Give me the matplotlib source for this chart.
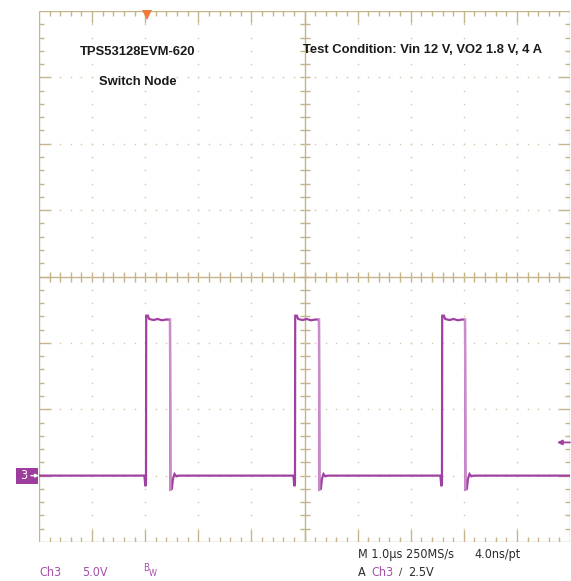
import matplotlib
matplotlib.use("Agg")
import matplotlib.pyplot as plt
from matplotlib.collections import LineCollection
from matplotlib.patches import Rectangle
from matplotlib import font_manager

# ---- scope settings ----
VOLTS_PER_DIV = 5.0
US_PER_DIV = 1.0
GROUND_DIV = -3.0          # ch3 ground marker position (divisions from centre)
TRIG_LEVEL_V = 2.5
TRIG_POS_US = 2.03         # trigger point, µs from left edge of screen

# ---- switch-node waveform (µs from left edge, volts) ----
rise_us = [2.015, 4.821, 7.589]
fall_us = [2.467, 5.273, 8.023]
v_high = 11.75
v_overshoot = 12.05
v_dip_rise = -0.8
v_dip_fall = -1.05
top_ripple_dt = [0.06, 0.14, 0.22, 0.30, 0.38]
top_ripple_v = [11.8, 11.72, 11.8, 11.7, 11.76]
ring_dt = [0.008, 0.035, 0.055, 0.085, 0.12, 0.16]
ring_v = [-1.05, -1.0, -0.25, 0.12, -0.05, 0.0]

# ---- colours ----
GRAT = "#c4b48c"
DOT = "#d2c6a6"
TRACE = "#a040a0"
TRACE_FALL = "#cc8ccc"
LABEL_PURPLE = "#a550a8"
TEXT_DARK = "#2b2b2b"
TRIG_ORANGE = "#f07a3a"

# condensed face for the readout line
avail = {f.name for f in font_manager.fontManager.ttflist}
NARROW = "Liberation Sans Narrow" if "Liberation Sans Narrow" in avail else "DejaVu Sans"

W, H = 571, 581
fig = plt.figure(figsize=(W / 100, H / 100), dpi=100)
fig.patch.set_facecolor("white")

L, R, T, B = 39, 570, 11, 542
ax = fig.add_axes([L / W, 1 - B / H, (R - L) / W, (B - T) / H])
ax.set_xlim(0, 10)
ax.set_ylim(-4, 4)
ax.axis("off")

px_x = 10 / (R - L)   # divisions per pixel, horizontal
px_y = 8 / (B - T)    # divisions per pixel, vertical

# ---- graticule ----
segs = []
segs += [[(0, -4), (10, -4)], [(0, 4), (10, 4)], [(0, -4), (0, 4)], [(10, -4), (10, 4)]]
segs += [[(0, 0), (10, 0)], [(5, -4), (5, 4)]]
minor, major = 5, 12
for k in range(1, 50):
    x = k * 0.2
    ln = major if k % 5 == 0 else minor
    segs.append([(x, 4), (x, 4 - ln * px_y)])
    segs.append([(x, -4), (x, -4 + ln * px_y)])
    segs.append([(x, -5 * px_y), (x, 5 * px_y)])
for k in range(1, 40):
    y = -4 + k * 0.2
    ln = major if k % 5 == 0 else minor
    segs.append([(0, y), (ln * px_x, y)])
    segs.append([(10, y), (10 - ln * px_x, y)])
    segs.append([(5 - 5 * px_x, y), (5 + 5 * px_x, y)])
ax.add_collection(LineCollection(segs, colors=GRAT, linewidths=1.0, zorder=1))

dx, dy = [], []
for xm in range(1, 10):
    if xm == 5:
        continue
    for k in range(1, 40):
        dx.append(xm)
        dy.append(-4 + k * 0.2)
for ym in range(-3, 4):
    if ym == 0:
        continue
    for k in range(1, 50):
        dx.append(k * 0.2)
        dy.append(ym)
ax.plot(dx, dy, linestyle="none", marker="s", markersize=1.0,
        markeredgewidth=0, color=DOT, zorder=1)

# ---- trace ----
t, v = [0.0], [0.0]
for tr, tf in zip(rise_us, fall_us):
    t += [tr - 0.03, tr - 0.012, tr, tr + 0.004, tr + 0.035]
    v += [0.0, v_dip_rise, v_dip_rise * 0.6, v_overshoot, v_overshoot]
    t += [tr + d for d in top_ripple_dt if tr + d < tf]
    v += [vv for d, vv in zip(top_ripple_dt, top_ripple_v) if tr + d < tf]
    t += [tf]
    v += [v_high]
    t += [tf + d for d in ring_dt]
    v += ring_v
t.append(10.0)
v.append(0.0)

def to_div(volts):
    return volts / VOLTS_PER_DIV + GROUND_DIV

ax.plot(t, [to_div(x) for x in v], color=TRACE, linewidth=1.6,
        solid_joinstyle="miter", zorder=3)
for tf in fall_us:
    ax.plot([tf, tf + ring_dt[0]], [to_div(v_high), to_div(ring_v[0])],
            color=TRACE_FALL, linewidth=1.6, zorder=4)

# ---- markers ----
ax.plot([TRIG_POS_US / US_PER_DIV], [4 - 3.5 * px_y], marker="v", markersize=7,
        color=TRIG_ORANGE, markeredgewidth=0, clip_on=False, zorder=5)
ty = to_div(TRIG_LEVEL_V)
ax.annotate("", xy=(10 - 13 * px_x, ty), xytext=(10, ty),
            arrowprops=dict(arrowstyle="-|>", color=TRACE, lw=1.3,
                            mutation_scale=7, shrinkA=0, shrinkB=0),
            annotation_clip=False, zorder=5)
ax.add_patch(Rectangle((-23 * px_x, GROUND_DIV - 8 * px_y), 22 * px_x, 16 * px_y,
                       facecolor="#9c3c9c", edgecolor="none", clip_on=False, zorder=5))
ax.text(-15 * px_x, GROUND_DIV, "3", color="white", fontsize=9,
        family=NARROW, fontstretch="condensed", ha="center", va="center",
        zorder=6, clip_on=False)
ax.annotate("", xy=(0, GROUND_DIV), xytext=(-8 * px_x, GROUND_DIV),
            arrowprops=dict(arrowstyle="-|>", color="white", lw=1.0,
                            mutation_scale=5, shrinkA=0, shrinkB=0),
            annotation_clip=False, zorder=6)

# ---- annotations ----
def ftext(x, y, s, **kw):
    return fig.text(x / W, 1 - y / H, s, **kw)

bold = dict(family="Liberation Sans", fontweight="bold", fontsize=9.4,
            color="#1a1a1a", va="baseline", ha="left")
ftext(80, 55, "TPS53128EVM-620", **bold)
ftext(99, 85, "Switch Node", **bold)
ftext(303, 53, "Test Condition: Vin 12 V, VO2 1.8 V, 4 A", **bold)

readout = dict(family=NARROW, fontstretch="condensed", fontsize=9.0,
               va="baseline", ha="left")
ftext(39, 575.5, "Ch3", color=LABEL_PURPLE, **readout)
ftext(82, 575.5, "5.0V", color=LABEL_PURPLE, **readout)
ftext(358, 558, "M 1.0\u00b5s 250MS/s", color=TEXT_DARK, **readout)
ftext(474, 558, "4.0ns/pt", color=TEXT_DARK, **readout)
ftext(358, 575.5, "A", color=TEXT_DARK, **readout)
ftext(371, 575.5, "Ch3", color=LABEL_PURPLE, **readout)
ftext(408, 575.5, "2.5V", color=TEXT_DARK, **readout)

ftext(143, 571, "B", color=LABEL_PURPLE, family=NARROW, fontstretch="condensed",
      fontsize=7, va="baseline", ha="left")
ftext(149, 576, "W", color=LABEL_PURPLE, family=NARROW, fontstretch="condensed",
      fontsize=6.5, va="baseline", ha="left")
ftext(399, 575.5, "\u2215", color=TEXT_DARK, family="DejaVu Sans", fontsize=7,
      va="baseline", ha="left")

fig.savefig("out.png", dpi=100, facecolor="white")
